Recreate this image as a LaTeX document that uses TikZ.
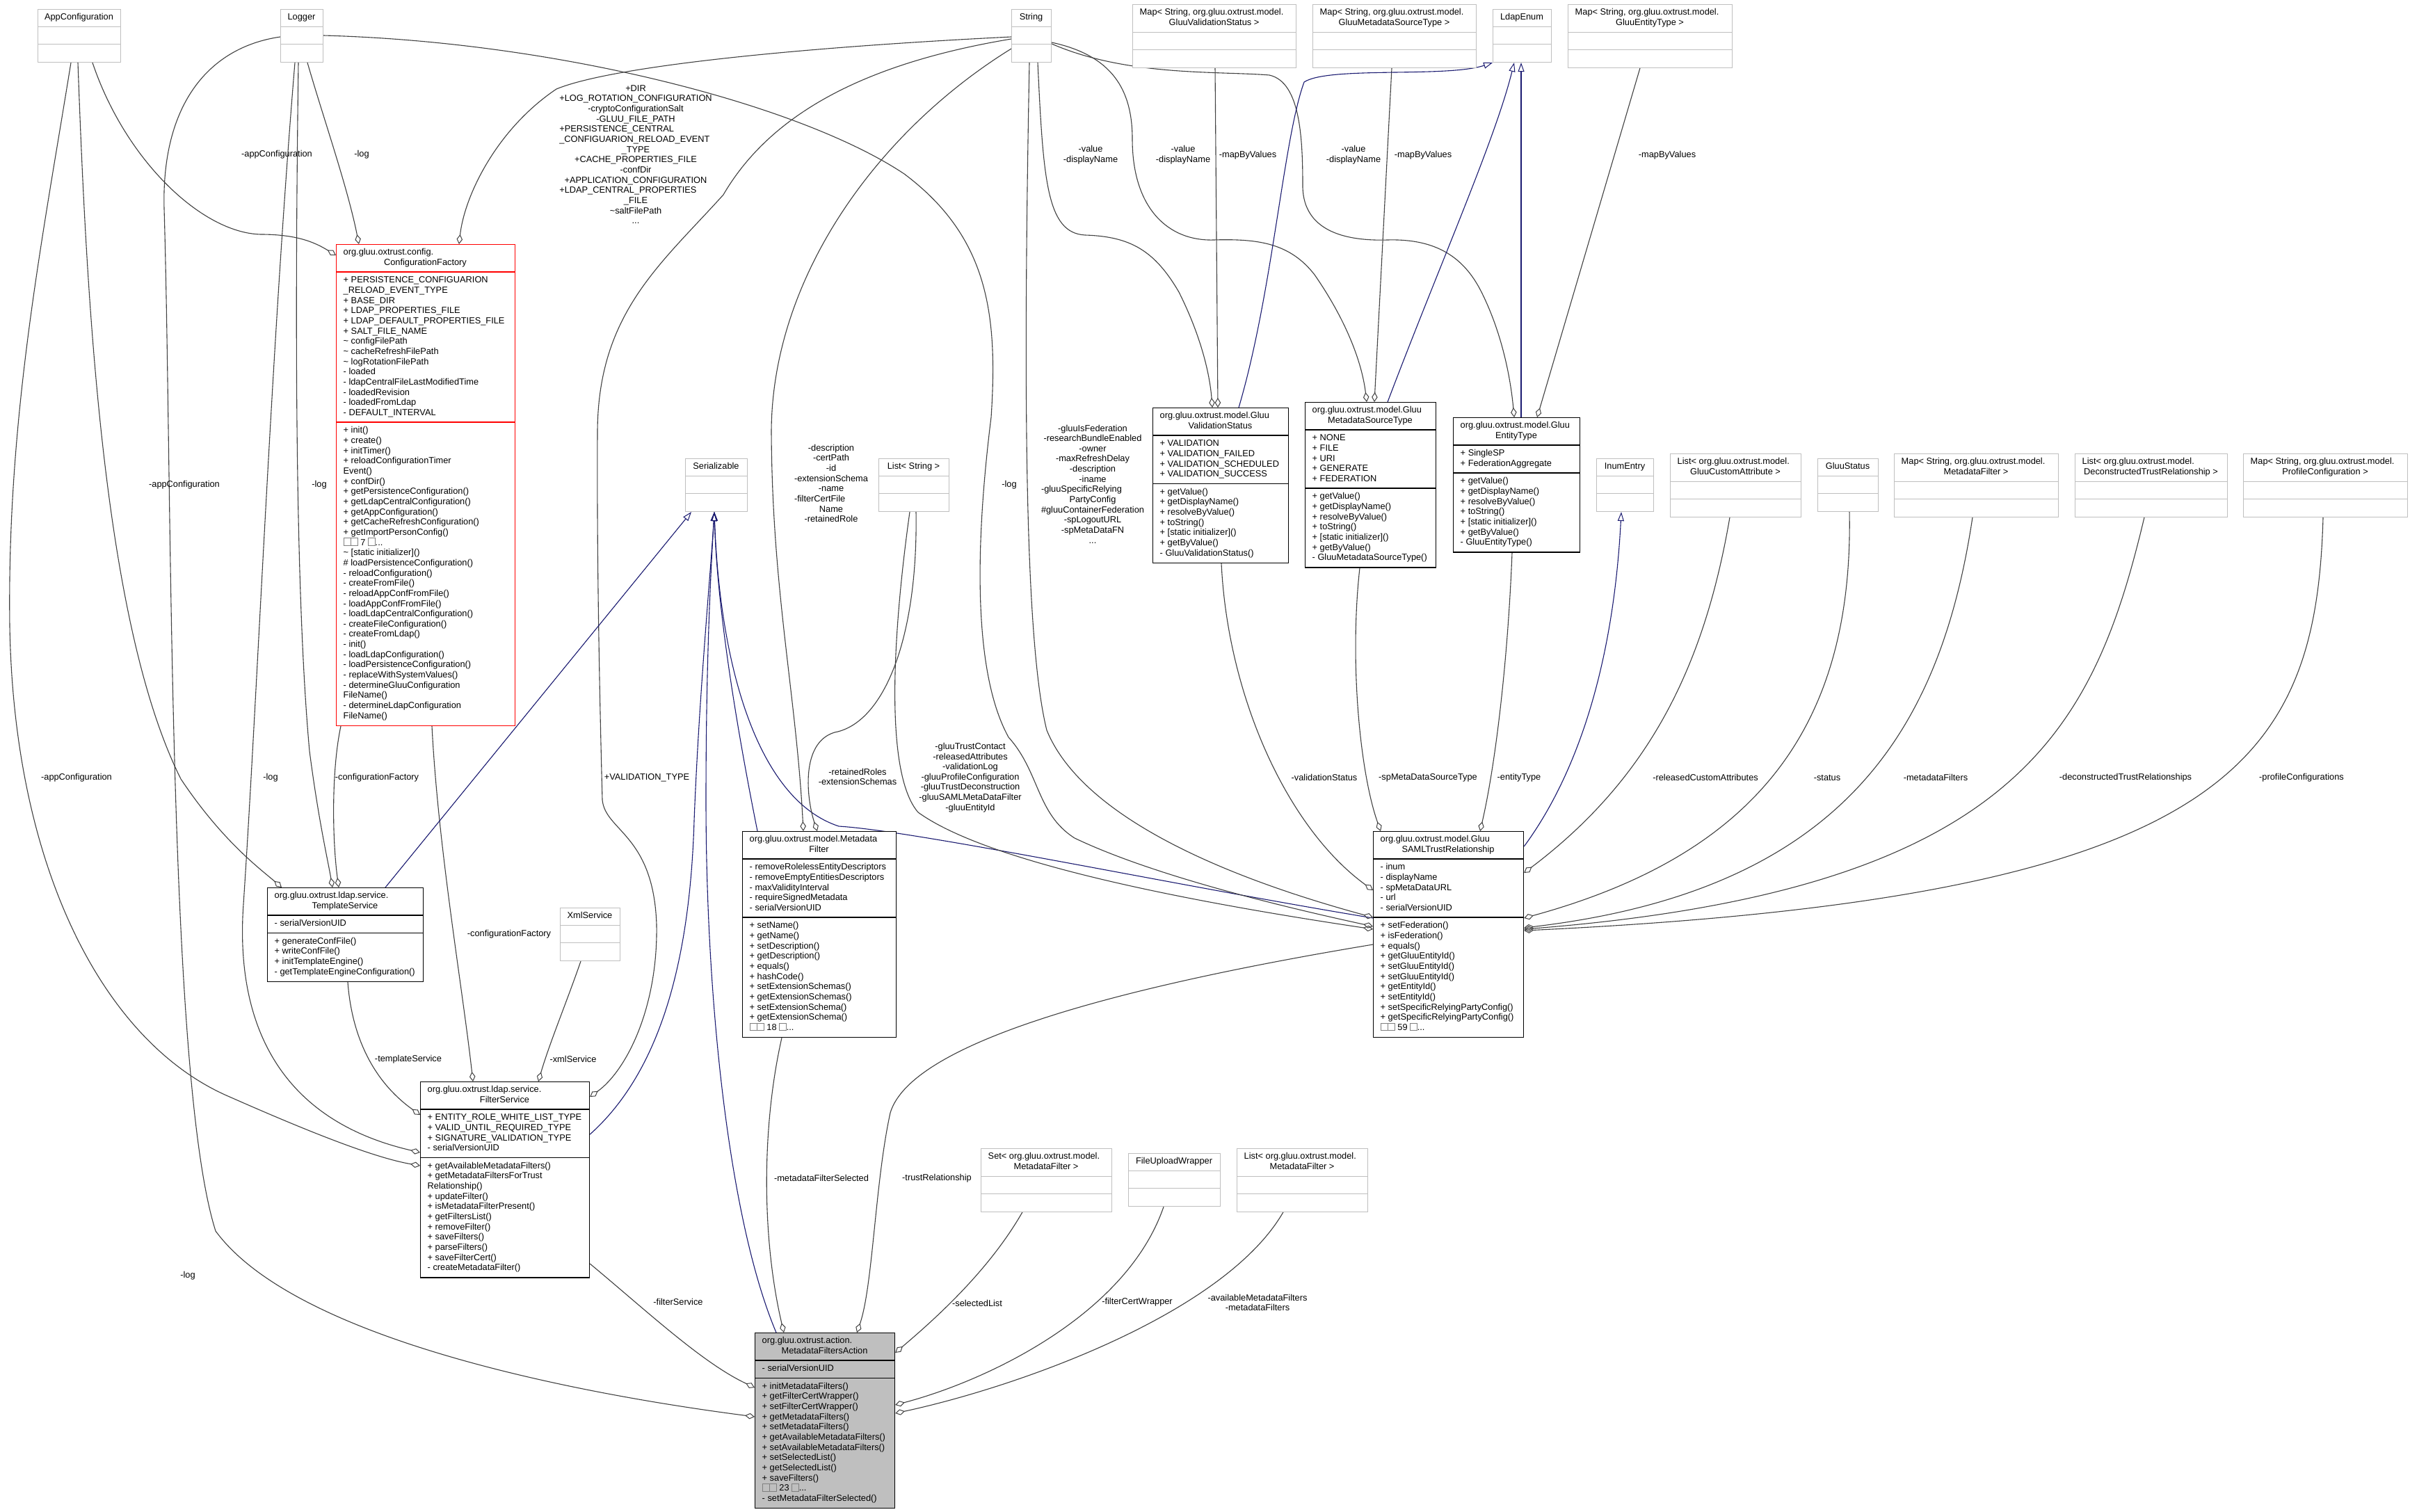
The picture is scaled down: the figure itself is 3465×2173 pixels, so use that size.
\documentclass[tikz,border=0pt]{standalone}
\usepackage{fontspec}
\setmainfont{Liberation Sans}
\usetikzlibrary{arrows.meta}
\definecolor{edgegrey}{HTML}{404040}
\definecolor{inhblue}{HTML}{191970}
\definecolor{boxgrey}{HTML}{BFBFBF}
\newlength\wA \newlength\wB \newlength\wC
\newcommand\lblfont{\fontsize{12.8}{14.66}\selectfont}
\newcommand\gb{{\color{black!50}\setlength\fboxsep{0pt}\setlength\fboxrule{0.8pt}\fbox{\rule{0pt}{10pt}\rule{9pt}{0pt}}}}
\pgfdeclarelayer{bg}\pgfdeclarelayer{edges}
\pgfsetlayers{bg,edges,main}
% box frame: name, style, x, y, width, header lines, attribute lines, method lines
\newcommand\uml[8]{%
  \def\bn{#1}%
  \pgfmathsetmacro\bx{#3}\pgfmathsetmacro\by{#4}\pgfmathsetmacro\bw{#5}%
  \pgfmathsetmacro\ha{#6*14.66+10.7}%
  \pgfmathsetmacro\hb{max(#7,1)*14.66+10.7}%
  \pgfmathsetmacro\hc{max(#8,1)*14.66+10.7}%
  \pgfmathsetmacro\ay{\by+\ha}%
  \pgfmathsetmacro\my{\ay+\hb}%
  \pgfmathsetmacro\bh{\ha+\hb+\hc}%
  \node[#2, anchor=north west, minimum width=\bw pt, minimum height=\bh pt, inner sep=0pt] (#1) at (\bx,\by) {};
  \draw[#2 sep] (\bx,\ay) -- ({\bx+\bw},\ay) (\bx,\my) -- ({\bx+\bw},\my);
}
\newcommand\hA[1]{\node[txt,anchor=north] (\bn-h) at ({\bx+\bw/2},{\by+5.35}) {\strut #1};}
\newcommand\hB[2]{\node[txt,anchor=north west] (\bn-h) at ({\bx+10.5},{\by+5.35}) {\strut #1};
  \node[txt,anchor=north] (\bn-hh) at ({\bx+\bw/2},{\by+5.35+14.66}) {\strut #2};}
\newcommand\tA[1]{\node[txt,anchor=north west,align=left] (\bn-a) at ({\bx+10.5},{\ay+5.35}) {\strut #1};}
\newcommand\tM[1]{\node[txt,anchor=north west,align=left] (\bn-m) at ({\bx+10.5},{\my+5.35}) {\strut #1};}
\begin{document}
\settowidth\wA{\lblfont +LOG\_ROTATION\_CONFIGURATION}%
\settowidth\wB{\lblfont -extensionSchema}%
\settowidth\wC{\lblfont \#gluuContainerFederation}%
\begin{tikzpicture}[x=1pt,y=-1pt,
  txt/.style={font=\lblfont, inner sep=0pt, text=black},
  lbl/.style={txt, align=center},
  gbox/.style={draw=boxgrey, fill=white, line width=1pt},
  gbox sep/.style={draw=boxgrey, line width=1pt},
  bbox/.style={draw=black, fill=white, line width=1.2pt},
  bbox sep/.style={draw=black, line width=1.2pt},
  rbox/.style={draw=red, fill=white, line width=1.2pt},
  rbox sep/.style={draw=red, line width=1.2pt},
  abox/.style={draw=black, fill=boxgrey, line width=1.2pt},
  abox sep/.style={draw=black, line width=1.2pt},
  use/.style={draw=edgegrey, line width=1.1pt, -{Diamond[open,length=14pt,width=8.5pt,line width=1pt]}},
  inh/.style={draw=inhblue, line width=1.1pt, -{Triangle[open,length=13pt,width=9pt,line width=1pt]}}]
\begin{pgfonlayer}{bg}
\fill[white] (0,0) rectangle (3465,2173);
\end{pgfonlayer}
\useasboundingbox (0,0) rectangle (3465,2173);

% ---------------- boxes ----------------
\uml{appc}{gbox}{54}{13}{119}{1}{0}{0}\hA{AppConfiguration}
\uml{logger}{gbox}{403}{13}{61}{1}{0}{0}\hA{Logger}
\uml{string}{gbox}{1454}{13}{57}{1}{0}{0}\hA{String}
\uml{mapvs}{gbox}{1628}{6}{235}{2}{0}{0}\hB{Map< String, org.gluu.oxtrust.model.}{GluuValidationStatus >}
\uml{mapmst}{gbox}{1887}{6}{235}{2}{0}{0}\hB{Map< String, org.gluu.oxtrust.model.}{GluuMetadataSourceType >}
\uml{ldap}{gbox}{2146}{13}{84}{1}{0}{0}\hA{LdapEnum}
\uml{mapet}{gbox}{2254}{6}{236}{2}{0}{0}\hB{Map< String, org.gluu.oxtrust.model.}{GluuEntityType >}

\uml{cf}{rbox}{483}{351}{257}{2}{14}{29}
\hB{org.gluu.oxtrust.config.}{ConfigurationFactory}
\tA{+ PERSISTENCE\_CONFIGUARION\\\_RELOAD\_EVENT\_TYPE\\+ BASE\_DIR\\+ LDAP\_PROPERTIES\_FILE\\+ LDAP\_DEFAULT\_PROPERTIES\_FILE\\+ SALT\_FILE\_NAME\\\textasciitilde{} configFilePath\\\textasciitilde{} cacheRefreshFilePath\\\textasciitilde{} logRotationFilePath\\- loaded\\- ldapCentralFileLastModifiedTime\\- loadedRevision\\- loadedFromLdap\\- DEFAULT\_INTERVAL}
\tM{+ init()\\+ create()\\+ initTimer()\\+ reloadConfigurationTimer\\Event()\\+ confDir()\\+ getPersistenceConfiguration()\\+ getLdapCentralConfiguration()\\+ getAppConfiguration()\\+ getCacheRefreshConfiguration()\\+ getImportPersonConfig()\\\gb\gb{} 7 \gb...\\\textasciitilde{} [static initializer]()\\\# loadPersistenceConfiguration()\\- reloadConfiguration()\\- createFromFile()\\- reloadAppConfFromFile()\\- loadAppConfFromFile()\\- loadLdapCentralConfiguration()\\- createFileConfiguration()\\- createFromLdap()\\- init()\\- loadLdapConfiguration()\\- loadPersistenceConfiguration()\\- replaceWithSystemValues()\\- determineGluuConfiguration\\FileName()\\- determineLdapConfiguration\\FileName()}

\uml{ser}{gbox}{985}{659}{89}{1}{0}{0}\hA{Serializable}
\uml{lstr}{gbox}{1263}{659}{101}{1}{0}{0}\hA{List< String >}

\uml{vs}{bbox}{1657}{586}{195}{2}{4}{7}
\hB{org.gluu.oxtrust.model.Gluu}{ValidationStatus}
\tA{+ VALIDATION\\+ VALIDATION\_FAILED\\+ VALIDATION\_SCHEDULED\\+ VALIDATION\_SUCCESS}
\tM{+ getValue()\\+ getDisplayName()\\+ resolveByValue()\\+ toString()\\+ [static initializer]()\\+ getByValue()\\- GluuValidationStatus()}

\uml{mst}{bbox}{1876}{578}{188}{2}{5}{7}
\hB{org.gluu.oxtrust.model.Gluu}{MetadataSourceType}
\tA{+ NONE\\+ FILE\\+ URI\\+ GENERATE\\+ FEDERATION}
\tM{+ getValue()\\+ getDisplayName()\\+ resolveByValue()\\+ toString()\\+ [static initializer]()\\+ getByValue()\\- GluuMetadataSourceType()}

\uml{et}{bbox}{2089}{600}{182}{2}{2}{7}
\hB{org.gluu.oxtrust.model.Gluu}{EntityType}
\tA{+ SingleSP\\+ FederationAggregate}
\tM{+ getValue()\\+ getDisplayName()\\+ resolveByValue()\\+ toString()\\+ [static initializer]()\\+ getByValue()\\- GluuEntityType()}

\uml{inum}{gbox}{2295}{659}{82}{1}{0}{0}\hA{InumEntry}
\uml{lgca}{gbox}{2401}{652}{188}{2}{0}{0}\hB{List< org.gluu.oxtrust.model.}{GluuCustomAttribute >}
\uml{gstat}{gbox}{2613}{659}{87}{1}{0}{0}\hA{GluuStatus}
\uml{mapmf}{gbox}{2723}{652}{236}{2}{0}{0}\hB{Map< String, org.gluu.oxtrust.model.}{MetadataFilter >}
\uml{ldtr}{gbox}{2983}{652}{219}{2}{0}{0}\hB{List< org.gluu.oxtrust.model.}{DeconstructedTrustRelationship >}
\uml{mappc}{gbox}{3225}{652}{236}{2}{0}{0}\hB{Map< String, org.gluu.oxtrust.model.}{ProfileConfiguration >}

\uml{ts}{bbox}{384}{1276}{224}{2}{1}{4}
\hB{org.gluu.oxtrust.ldap.service.}{TemplateService}
\tA{- serialVersionUID}
\tM{+ generateConfFile()\\+ writeConfFile()\\+ initTemplateEngine()\\- getTemplateEngineConfiguration()}

\uml{xml}{gbox}{805}{1305}{86}{1}{0}{0}\hA{XmlService}

\uml{fs}{bbox}{604}{1555}{243}{2}{4}{11}
\hB{org.gluu.oxtrust.ldap.service.}{FilterService}
\tA{+ ENTITY\_ROLE\_WHITE\_LIST\_TYPE\\+ VALID\_UNTIL\_REQUIRED\_TYPE\\+ SIGNATURE\_VALIDATION\_TYPE\\- serialVersionUID}
\tM{+ getAvailableMetadataFilters()\\+ getMetadataFiltersForTrust\\Relationship()\\+ updateFilter()\\+ isMetadataFilterPresent()\\+ getFiltersList()\\+ removeFilter()\\+ saveFilters()\\+ parseFilters()\\+ saveFilterCert()\\- createMetadataFilter()}

\uml{mf}{bbox}{1067}{1195}{221}{2}{5}{11}
\hB{org.gluu.oxtrust.model.Metadata}{Filter}
\tA{- removeRolelessEntityDescriptors\\- removeEmptyEntitiesDescriptors\\- maxValidityInterval\\- requireSignedMetadata\\- serialVersionUID}
\tM{+ setName()\\+ getName()\\+ setDescription()\\+ getDescription()\\+ equals()\\+ hashCode()\\+ setExtensionSchemas()\\+ getExtensionSchemas()\\+ setExtensionSchema()\\+ getExtensionSchema()\\\gb\gb{} 18 \gb...}

\uml{saml}{bbox}{1974}{1195}{216}{2}{5}{11}
\hB{org.gluu.oxtrust.model.Gluu}{SAMLTrustRelationship}
\tA{- inum\\- displayName\\- spMetaDataURL\\- url\\- serialVersionUID}
\tM{+ setFederation()\\+ isFederation()\\+ equals()\\+ getGluuEntityId()\\+ setGluuEntityId()\\+ setGluuEntityId()\\+ getEntityId()\\+ setEntityId()\\+ setSpecificRelyingPartyConfig()\\+ getSpecificRelyingPartyConfig()\\\gb\gb{} 59 \gb...}

\uml{setmf}{gbox}{1410}{1651}{188}{2}{0}{0}\hB{Set< org.gluu.oxtrust.model.}{MetadataFilter >}
\uml{fuw}{gbox}{1622}{1658}{132}{1}{0}{0}\hA{FileUploadWrapper}
\uml{lmf}{gbox}{1778}{1651}{188}{2}{0}{0}\hB{List< org.gluu.oxtrust.model.}{MetadataFilter >}

\uml{mfa}{abox}{1085}{1916}{201}{2}{1}{12}
\hB{org.gluu.oxtrust.action.}{MetadataFiltersAction}
\tA{- serialVersionUID}
\tM{+ initMetadataFilters()\\+ getFilterCertWrapper()\\+ setFilterCertWrapper()\\+ getMetadataFilters()\\+ setMetadataFilters()\\+ getAvailableMetadataFilters()\\+ setAvailableMetadataFilters()\\+ setSelectedList()\\+ getSelectedList()\\+ saveFilters()\\\gb\gb{} 23 \gb...\\- setMetadataFilterSelected()}

% ---------------- connectors ----------------
\begin{pgfonlayer}{edges}
% to ConfigurationFactory
\draw[use] (133,0 |- appc.south) .. controls (180,230) and (290,335) .. (375,337) .. controls (430,337) and (455,350) .. (cf.west |- 0,367);
\draw[use] (442,0 |- logger.south) .. controls (465,170) and (500,270) .. (516,0 |- cf.north);
\draw[use] (string.west |- 0,53) .. controls (1150,68) and (880,95) .. (800,128) .. controls (715,185) and (668,280) .. (660,0 |- cf.north);
% to TemplateService
\draw[use] (429,0 |- logger.south) .. controls (424,450) and (424,850) .. (445,1080) .. controls (458,1180) and (472,1240) .. (478,0 |- ts.north);
\draw[use] (490,0 |- cf.south) .. controls (476,1110) and (478,1210) .. (487,0 |- ts.north);
\draw[use] (112,0 |- appc.south) .. controls (125,450) and (150,900) .. (260,1120) .. controls (320,1210) and (375,1250) .. (405,0 |- ts.north);
% to FilterService
\draw[use] (500,0 |- ts.south) .. controls (505,1480) and (530,1550) .. (fs.west |- 0,1603);
\draw[use] (621,0 |- cf.south) .. controls (630,1220) and (665,1420) .. (680,0 |- fs.north);
\draw[use] (835,0 |- xml.south) .. controls (815,1440) and (790,1500) .. (774,0 |- fs.north);
\draw[use] (string.west |- 0,56) .. controls (1250,90) and (1110,160) .. (1040,280) .. controls (950,380) and (860,450) .. (859,620) .. controls (858,800) and (862,1000) .. (866,1150) .. controls (870,1195) and (940,1200) .. (944,1330) .. controls (946,1450) and (900,1540) .. (fs.east |- 0,1577);
\draw[use] (102,0 |- appc.south) .. controls (60,350) and (10,600) .. (14,900) .. controls (20,1250) and (150,1500) .. (330,1577) .. controls (450,1630) and (540,1665) .. (fs.west |- 0,1676);
\draw[use] (424,0 |- logger.south) .. controls (390,500) and (370,1000) .. (350,1300) .. controls (338,1470) and (400,1610) .. (fs.west |- 0,1657);
% inheritance to Serializable
\draw[inh] (fs.east |- 0,1631) .. controls (950,1540) and (992,1380) .. (998,1180) .. controls (1005,1000) and (1022,820) .. (1027,0 |- ser.south);
\draw[inh] (554,0 |- ts.north) -- (994,0 |- ser.south);
\draw[inh] (1089,0 |- mf.north) .. controls (1050,1000) and (1030,850) .. (1027,0 |- ser.south);
\draw[inh] (1116,0 |- mfa.north) .. controls (1050,1760) and (1015,1450) .. (1015,1150) .. controls (1015,950) and (1022,820) .. (1027,0 |- ser.south);
\draw[inh] (saml.west |- 0,1320) .. controls (1700,1275) and (1320,1195) .. (1206,1188) .. controls (1090,1150) and (1035,960) .. (1027,0 |- ser.south);
% to MetadataFilter
\draw[use] (string.west |- 0,70) .. controls (1260,190) and (1110,400) .. (1109,620) .. controls (1110,850) and (1145,1000) .. (1155,0 |- mf.north);
\draw[use] (1317,0 |- lstr.south) .. controls (1320,920) and (1270,1040) .. (1200,1053) .. controls (1150,1068) and (1160,1150) .. (1175,0 |- mf.north);
% to GluuSAMLTrustRelationship (left and top)
\draw[use] (1308,0 |- lstr.south) .. controls (1285,900) and (1270,1110) .. (1320,1168) .. controls (1420,1240) and (1700,1295) .. (saml.west |- 0,1336);
\draw[use] (1480,0 |- string.south) .. controls (1470,600) and (1475,930) .. (1505,1050) .. controls (1550,1160) and (1720,1250) .. (saml.west |- 0,1319);
\draw[use] (logger.east |- 0,51) .. controls (800,60) and (1150,150) .. (1300,250) .. controls (1420,340) and (1435,450) .. (1425,600) .. controls (1405,760) and (1395,960) .. (1450,1060) .. controls (1495,1110) and (1490,1170) .. (1545,1205) .. controls (1660,1260) and (1850,1305) .. (saml.west |- 0,1332);
\draw[use] (1756,0 |- vs.south) .. controls (1765,1000) and (1850,1190) .. (saml.west |- 0,1280);
\draw[use] (1955,0 |- mst.south) .. controls (1940,950) and (1955,1110) .. (1985,0 |- saml.north);
\draw[use] (2174,0 |- et.south) .. controls (2168,950) and (2150,1100) .. (2128,0 |- saml.north);
% enums
\draw[use] (1492,0 |- string.south) .. controls (1500,260) and (1505,335) .. (1560,338) .. controls (1625,340) and (1660,360) .. (1695,420) .. controls (1730,490) and (1740,545) .. (1743,0 |- vs.north);
\draw[use] (1747,0 |- mapvs.south) -- (1751,0 |- vs.north);
\draw[use] (string.east |- 0,61) .. controls (1600,80) and (1628,130) .. (1628,200) .. controls (1628,300) and (1680,347) .. (1745,345) .. controls (1810,343) and (1855,350) .. (1890,395) .. controls (1935,460) and (1958,520) .. (1965,0 |- mst.north);
\draw[use] (2001,0 |- mapmst.south) -- (1976,0 |- mst.north);
\draw[use] (string.east |- 0,63) .. controls (1620,110) and (1750,102) .. (1825,108) .. controls (1870,118) and (1873,200) .. (1873,270) .. controls (1875,330) and (1930,347) .. (1995,345) .. controls (2065,343) and (2105,370) .. (2130,420) .. controls (2160,480) and (2172,545) .. (2177,0 |- et.north);
\draw[use] (2358,0 |- mapet.south) -- (2210,0 |- et.north);
\draw[inh] (1781,0 |- vs.north) .. controls (1830,420) and (1845,200) .. (1875,118) .. controls (1910,95) and (2080,112) .. (ldap.south west);
\draw[inh] (1995,0 |- mst.north) .. controls (2070,380) and (2150,200) .. (2177,0 |- ldap.south);
\draw[inh] (2187,0 |- et.north) -- (2187,0 |- ldap.south);
% right side of GluuSAMLTrustRelationship
\draw[inh] (saml.east |- 0,1217) .. controls (2270,1110) and (2320,950) .. (2331,0 |- inum.south);
\draw[use] (2487,0 |- lgca.south) .. controls (2450,960) and (2370,1120) .. (saml.east |- 0,1255);
\draw[use] (2659,0 |- gstat.south) .. controls (2665,1050) and (2520,1230) .. (saml.east |- 0,1320);
\draw[use] (2836,0 |- mapmf.south) .. controls (2790,1050) and (2650,1280) .. (saml.east |- 0,1334);
\draw[use] (3083,0 |- ldtr.south) .. controls (3010,1050) and (2900,1280) .. (saml.east |- 0,1336);
\draw[use] (3340,0 |- mappc.south) .. controls (3330,1100) and (3200,1290) .. (saml.east |- 0,1338);
% to MetadataFiltersAction
\draw[use] (1124,0 |- mf.south) .. controls (1095,1620) and (1095,1780) .. (1127,0 |- mfa.north);
\draw[use] (saml.west |- 0,1358) .. controls (1600,1420) and (1310,1500) .. (1280,1600) .. controls (1258,1700) and (1255,1850) .. (1232,0 |- mfa.north);
\draw[use] (1470,0 |- setmf.south) .. controls (1420,1830) and (1340,1900) .. (mfa.east |- 0,1945);
\draw[use] (1673,0 |- fuw.south) .. controls (1620,1890) and (1420,1985) .. (mfa.east |- 0,2020);
\draw[use] (1845,0 |- lmf.south) .. controls (1760,1890) and (1460,1995) .. (mfa.east |- 0,2032);
\draw[use] (fs.east |- 0,1817) .. controls (930,1885) and (1010,1960) .. (mfa.west |- 0,1995);
\draw[use] (logger.west |- 0,53) .. controls (300,68) and (232,150) .. (236,300) .. controls (248,700) and (240,1550) .. (310,1770) .. controls (420,1920) and (800,2000) .. (mfa.west |- 0,2037);
\end{pgfonlayer}

% ---------------- labels ----------------
\node[lbl] (l1) at (398,222) {-appConfiguration};
\node[lbl] (l2) at (520,222) {-log};
\node[lbl] (l3) at (914,222) {+DIR\\+LOG\_ROTATION\_CONFIGURATION\\-cryptoConfigurationSalt\\-GLUU\_FILE\_PATH\\\makebox[\wA][l]{+PERSISTENCE\_CENTRAL}\\\makebox[\wA][l]{\_CONFIGUARION\_RELOAD\_EVENT}\\\_TYPE\\+CACHE\_PROPERTIES\_FILE\\-confDir\\+APPLICATION\_CONFIGURATION\\\makebox[\wA][l]{+LDAP\_CENTRAL\_PROPERTIES}\\\_FILE\\\textasciitilde saltFilePath\\...};
\node[lbl] (l4) at (1568,223) {-value\\-displayName};
\node[lbl] (l5) at (1794,223) {-mapByValues};
\node[lbl] (l6) at (1701,223) {-value\\-displayName};
\node[lbl] (l7) at (2046,223) {-mapByValues};
\node[lbl] (l8) at (1946,223) {-value\\-displayName};
\node[lbl] (l9) at (2397,223) {-mapByValues};
\node[lbl] (l10) at (265,697) {-appConfiguration};
\node[lbl] (l11) at (459,697) {-log};
\node[lbl] (l12) at (1195,695) {-description\\-certPath\\-id\\-extensionSchema\\-name\\\makebox[\wB][l]{-filterCertFile}\\Name\\-retainedRole};
\node[lbl] (l13) at (1451,697) {-log};
\node[lbl] (l14) at (1571,696) {-gluuIsFederation\\-researchBundleEnabled\\-owner\\-maxRefreshDelay\\-description\\-iname\\\makebox[\wC][l]{-gluuSpecificRelying}\\PartyConfig\\\#gluuContainerFederation\\-spLogoutURL\\-spMetaDataFN\\...};
\node[lbl] (l15) at (110,1118) {-appConfiguration};
\node[lbl] (l16) at (389,1118) {-log};
\node[lbl] (l17) at (542,1118) {-configurationFactory};
\node[lbl] (l18) at (930,1118) {+VALIDATION\_TYPE};
\node[lbl] (l19) at (1233,1117) {-retainedRoles\\-extensionSchemas};
\node[lbl] (l20) at (1395,1118) {-gluuTrustContact\\-releasedAttributes\\-validationLog\\-gluuProfileConfiguration\\-gluuTrustDeconstruction\\-gluuSAMLMetaDataFilter\\-gluuEntityId};
\node[lbl] (l21) at (1904,1118) {-validationStatus};
\node[lbl] (l22) at (2053,1118) {-spMetaDataSourceType};
\node[lbl] (l23) at (2184,1118) {-entityType};
\node[lbl] (l24) at (2452,1118) {-releasedCustomAttributes};
\node[lbl] (l25) at (2627,1118) {-status};
\node[lbl] (l26) at (2783,1118) {-metadataFilters};
\node[lbl] (l27) at (3056,1118) {-deconstructedTrustRelationships};
\node[lbl] (l28) at (3309,1118) {-profileConfigurations};
\node[lbl] (l29) at (732,1343) {-configurationFactory};
\node[lbl] (l30) at (587,1523) {-templateService};
\node[lbl] (l31) at (824,1523) {-xmlService};
\node[lbl] (l32) at (1181,1694) {-metadataFilterSelected};
\node[lbl] (l33) at (1347,1694) {-trustRelationship};
\node[lbl] (l34) at (270,1834) {-log};
\node[lbl] (l35) at (975,1872) {-filterService};
\node[lbl] (l36) at (1405,1874) {-selectedList};
\node[lbl] (l37) at (1635,1872) {-filterCertWrapper};
\node[lbl] (l38) at (1808,1873) {-availableMetadataFilters\\-metadataFilters};
\end{tikzpicture}
\end{document}
